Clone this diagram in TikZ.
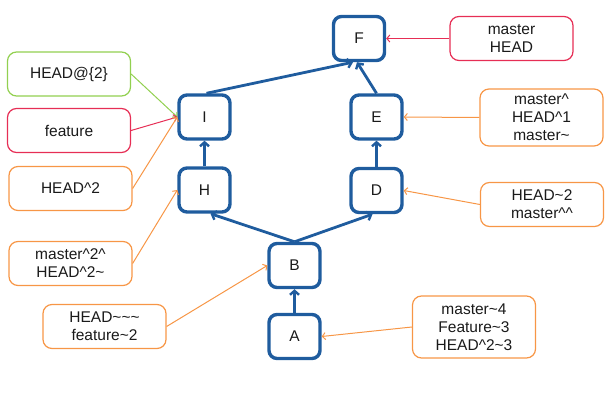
\documentclass[tikz,border=0pt]{standalone}
\usepackage{fontspec}
\setmainfont{Liberation Sans}
\usetikzlibrary{arrows.meta}
\definecolor{commitblue}{HTML}{1F5C9E}
\definecolor{refgreen}{HTML}{92D050}
\definecolor{refred}{HTML}{E62E55}
\definecolor{reforange}{HTML}{F79646}
\definecolor{inktext}{HTML}{1A1A1A}
\newcommand{\crt}{\textasciicircum}
\newcommand{\tld}{\textasciitilde}
\tikzset{
  commit/.style={draw=commitblue, line width=3.4pt, rounded corners=8pt,
    minimum width=51pt, minimum height=44pt, inner sep=0pt,
    text=inktext, font=\fontsize{15.5}{18}\selectfont},
  refbox/.style={draw=#1, line width=1.2pt, rounded corners=9pt,
    minimum width=123pt, minimum height=44pt, inner sep=1pt, align=center,
    text=inktext, font=\fontsize{15.5}{18}\selectfont},
  parent/.style={draw=commitblue, line width=2.8pt,
    -{Straight Barb[length=4pt,width=9pt,line width=2.4pt]}},
  pointer/.style={draw=#1, line width=1pt,
    -{Straight Barb[length=3pt,width=7pt,line width=1pt]}},
}
\begin{document}
\begin{tikzpicture}[x=1pt,y=-1pt]
\useasboundingbox (0,0) rectangle (609,411);

% commits
\node[commit] (F) at (359,38.5) {F};
\node[commit] (I) at (204.5,117) {I};
\node[commit] (E) at (376.5,117) {E};
\node[commit] (H) at (204.5,190) {H};
\node[commit] (D) at (376.5,190.5) {D};
\node[commit] (B) at (294.5,265.5) {B};
\node[commit] (A) at (294.5,336.5) {A};

% parent links
\draw[parent] (A.north) -- (B.south);
\draw[parent] (B.north) -- ([xshift=6pt]H.south);
\draw[parent] (B.north) -- ([xshift=-4pt]D.south);
\draw[parent] (H.north) -- (I.south);
\draw[parent] (D.north) -- (E.south);
\draw[parent] ([xshift=2pt]I.north) -- ([xshift=-6pt]F.south);
\draw[parent] (E.north) -- ([xshift=-2pt]F.south);

% references
\node[refbox=refgreen]  (r1) at (69,74)      {HEAD@\{2\}};
\node[refbox=refred]    (r2) at (69,130.5)   {feature};
\node[refbox=reforange] (r3) at (70.5,188.5) {HEAD\crt2};
\node[refbox=reforange] (r4) at (70.5,263.5) {master\crt2\crt\\HEAD\crt2\tld};
\node[refbox=reforange] (r5) at (104.5,326.5) {HEAD\tld\tld\tld\\feature\tld2};
\node[refbox=refred]    (r6) at (511.5,38.5) {master\\HEAD};
\node[refbox=reforange, minimum height=57pt] (r7) at (541.5,117.5) {master\crt\\HEAD\crt1\\master\tld};
\node[refbox=reforange] (r8) at (542,204.5) {HEAD\tld2\\master\crt\crt};
\node[refbox=reforange, minimum height=62pt] (r9) at (474,327) {master\tld4\\Feature\tld3\\HEAD\crt2\tld3};

\draw[pointer=refgreen]  (r1.east) -- (I.west);
\draw[pointer=refred]    (r2.east) -- (I.west);
\draw[pointer=reforange] (r3.east) -- (I.west);
\draw[pointer=reforange] (r4.east) -- (H.west);
\draw[pointer=reforange] (r5.east) -- (B.west);
\draw[pointer=refred]    (r6.west) -- (F.east);
\draw[pointer=reforange] (r7.west) -- (E.east);
\draw[pointer=reforange] (r8.west) -- (D.east);
\draw[pointer=reforange] (r9.west) -- (A.east);
\end{tikzpicture}
\end{document}
